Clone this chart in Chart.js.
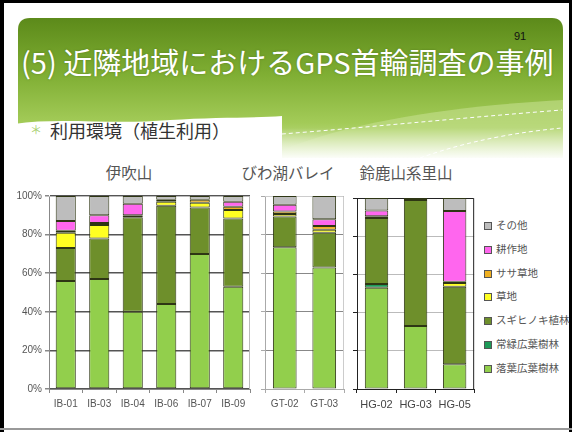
<!DOCTYPE html>
<html>
<head>
<meta charset="utf-8">
<script src="https://cdn.jsdelivr.net/npm/chart.js@4/dist/chart.umd.min.js"></script>
<style>
body{margin:0;width:572px;height:432px;position:relative;overflow:hidden;background:#fff;font-family:"Noto Sans CJK JP",sans-serif;}
.abs{position:absolute;}
#title{left:21px;top:40px;color:#fff;font-size:29px;white-space:nowrap;letter-spacing:0;text-shadow:0 0 2px rgba(60,90,20,.5);}
#pageno{left:514px;top:30px;font-size:11px;color:#111;font-family:"Liberation Sans",sans-serif;}
#subtitle{left:30px;top:117px;font-size:18px;color:#333;white-space:nowrap;}
#subtitle span{color:#a8d070;font-size:12px;margin-right:8px;vertical-align:3px;}
.ptitle{top:161px;font-size:15.5px;color:#555;white-space:nowrap;transform:translateX(-50%);}
#legend{left:484px;top:213px;font-size:10.5px;color:#555;white-space:nowrap;}
#legend div{height:23.8px;line-height:23.8px;}
#legend i{display:inline-block;width:6px;height:6px;border:1px solid #555;margin-right:4px;vertical-align:-1px;}
canvas{position:absolute;}
</style>
</head>
<body>
<svg class="abs" style="left:0;top:0" width="572" height="175">
  <defs>
    <linearGradient id="bg" x1="0" y1="0" x2="0" y2="1">
      <stop offset="0" stop-color="#5c8a1a"/>
      <stop offset="0.4" stop-color="#7fae33"/>
      <stop offset="0.75" stop-color="#a3cb58"/>
      <stop offset="1" stop-color="#cfe5a0"/>
    </linearGradient>
    <linearGradient id="fade" x1="0" y1="0" x2="0" y2="1">
      <stop offset="0" stop-color="#fff" stop-opacity="0"/>
      <stop offset="1" stop-color="#fff" stop-opacity="1"/>
    </linearGradient>
  </defs>
  <path d="M18,30 Q18,18 30,18 L552,18 Q563,18 563,30 L563,158 L18,158 Z" fill="url(#bg)"/>
  <path d="M282,150 C360,118 470,105 563,100 L563,158 L282,158 Z" fill="#c4df8e" opacity="0.6"/>
  <rect x="18" y="128" width="545" height="32" fill="url(#fade)"/>
  <path d="M14,124 C60,117 110,125 170,120 C215,117 255,118 282,116 L282,175 L14,175 Z" fill="#fff"/>
  <path d="M282,134 C360,128 460,118 562,110" stroke="#fff" stroke-width="1" stroke-dasharray="4,3" fill="none"/>
  <path d="M420,158 C470,140 520,132 562,128" stroke="#fff" stroke-width="1" stroke-dasharray="4,3" fill="none"/>
</svg>
<div class="abs" style="left:0;top:0;width:4px;height:432px;background:#000"></div>
<div class="abs" style="left:0;top:0;width:572px;height:3px;background:#000"></div>
<div class="abs" style="left:569px;top:0;width:3px;height:432px;background:#000"></div>
<div class="abs" style="left:0;top:428px;width:572px;height:2px;background:#999"></div>

<div id="title" class="abs">(5) 近隣地域におけるGPS首輪調査の事例</div>
<div id="pageno" class="abs">91</div>
<div id="subtitle" class="abs"><span>＊</span>利用環境（植生利用）</div>

<div class="abs ptitle" style="left:129px">伊吹山</div>
<div class="abs ptitle" style="left:288px">びわ湖バレイ</div>
<div class="abs ptitle" style="left:406px">鈴鹿山系里山</div>

<canvas id="chart1" width="254" height="236" style="left:0;top:186px"></canvas>
<canvas id="chart2" width="95" height="236" style="left:255px;top:186px"></canvas>
<canvas id="chart3" width="126" height="236" style="left:350px;top:186px"></canvas>
<div id="legend" class="abs"></div>

<script>
// séries (ordre d'empilement : du bas vers le haut)
const seriesNames = ['落葉広葉樹林', '常緑広葉樹林', 'スギヒノキ植林', '草地', 'ササ草地', '耕作地', 'その他'];
const seriesColors = ['#92cf4c', '#1d9a58', '#6e8f2b', '#ffff22', '#f0b020', '#ff66ee', '#bdbdbd'];

const yTickLabels = ['0%', '20%', '40%', '60%', '80%', '100%'];

// 伊吹山
const ibukiLabels = ['IB-01', 'IB-03', 'IB-04', 'IB-06', 'IB-07', 'IB-09'];
const ibukiRakuyo = [56, 57, 40, 44, 70, 53];
const ibukiJoryoku = [0, 0, 0, 0, 0, 0];
const ibukiSugi = [17, 21, 49, 51, 24, 35.4];
const ibukiSochi = [8, 7, 0, 2, 2.5, 4.3];
const ibukiSasa = [1, 1, 1, 1, 1.5, 1.7];
const ibukiKosaku = [5, 4, 6, 0, 0, 2.6];
const ibukiOther = [13, 10, 4, 2, 2, 3];

// びわ湖バレイ
const biwaLabels = ['GT-02', 'GT-03'];
const biwaRakuyo = [73.4, 63];
const biwaJoryoku = [0, 0];
const biwaSugi = [16, 18];
const biwaSochi = [1.3, 1.5];
const biwaSasa = [1.3, 2];
const biwaKosaku = [3.5, 3.5];
const biwaOther = [4.5, 12];

// 鈴鹿山系里山
const suzukaLabels = ['HG-02', 'HG-03', 'HG-05'];
const suzukaRakuyo = [53, 33, 13];
const suzukaJoryoku = [2, 0, 0];
const suzukaSugi = [34.5, 66, 40.5];
const suzukaSochi = [0, 0, 2];
const suzukaSasa = [1, 0, 0.7];
const suzukaKosaku = [3, 0, 37];
const suzukaOther = [6.5, 1, 6.8];

function buildDatasets(rows) {
    return rows.map((values, i) => ({
        label: seriesNames[i],
        data: values,
        backgroundColor: seriesColors[i],
        borderColor: '#2e3614',
        borderWidth: 1,
        borderSkipped: false,
        barPercentage: 1,
        categoryPercentage: 0.6
    }));
}

// cadre autour de la zone de tracé
const framePlugin = {
    id: 'frame',
    beforeDatasetsDraw(chart, args, opts) {
        const a = chart.chartArea;
        const ctx = chart.ctx;
        ctx.save();
        ctx.strokeStyle = opts.color;
        ctx.lineWidth = 1;
        ctx.beginPath();
        ctx.moveTo(a.left, a.top + 0.5);
        ctx.lineTo(a.right - 0.5, a.top + 0.5);
        ctx.lineTo(a.right - 0.5, a.bottom);
        ctx.stroke();
        ctx.restore();
    }
};

function makePanel(id, labels, rows, cfg) {
    return new Chart(document.getElementById(id), {
        type: 'bar',
        data: { labels: labels, datasets: buildDatasets(rows) },
        options: {
            responsive: false,
            animation: false,
            devicePixelRatio: 1,
            layout: { padding: { left: 0, right: cfg.padRight, top: cfg.padTop, bottom: 0 } },
            plugins: {
                legend: { display: false },
                tooltip: { enabled: false },
                frame: { color: cfg.frameColor }
            },
            scales: {
                x: {
                    stacked: true,
                    grid: { offset: true, drawOnChartArea: false, tickLength: 4, tickColor: cfg.axisColor },
                    border: { color: cfg.axisColor, width: 1 },
                    ticks: { color: cfg.labelColor, font: { family: 'Liberation Sans', size: cfg.xFont }, padding: 5, maxRotation: 0, autoSkip: false },
                    afterFit: (s) => { s.height = 33; }
                },
                y: {
                    stacked: true,
                    min: 0,
                    max: 100,
                    grid: { color: cfg.gridColor, lineWidth: cfg.gridWidth, tickLength: 4, tickColor: cfg.axisColor },
                    border: { color: cfg.axisColor, width: 1 },
                    ticks: {
                        stepSize: 20,
                        display: cfg.showY,
                        color: '#555',
                        padding: 3,
                        font: { family: 'Liberation Sans', size: 10 },
                        callback: (v, i) => yTickLabels[i]
                    },
                    afterFit: (s) => { s.width = cfg.yWidth; }
                }
            }
        },
        plugins: [framePlugin]
    });
}

makePanel('chart1', ibukiLabels,
    [ibukiRakuyo, ibukiJoryoku, ibukiSugi, ibukiSochi, ibukiSasa, ibukiKosaku, ibukiOther],
    { yWidth: 49, padRight: 4, padTop: 10, showY: true, gridColor: '#555', gridWidth: 1.5, axisColor: '#888', frameColor: '#bbb', labelColor: '#555', xFont: 10 });

makePanel('chart2', biwaLabels,
    [biwaRakuyo, biwaJoryoku, biwaSugi, biwaSochi, biwaSasa, biwaKosaku, biwaOther],
    { yWidth: 10, padRight: 6, padTop: 10, showY: false, gridColor: '#888', gridWidth: 1, axisColor: '#aaa', frameColor: '#ccc', labelColor: '#555', xFont: 10 });

makePanel('chart3', suzukaLabels,
    [suzukaRakuyo, suzukaJoryoku, suzukaSugi, suzukaSochi, suzukaSasa, suzukaKosaku, suzukaOther],
    { yWidth: 7, padRight: 1, padTop: 12, showY: false, gridColor: '#bbb', gridWidth: 1, axisColor: '#222', frameColor: '#222', labelColor: '#444', xFont: 11 });

// légende commune (de haut en bas : その他 → 落葉広葉樹林)
let legend = document.querySelector('#legend');
for (let i = seriesNames.length - 1; i >= 0; i--) {
    let row = document.createElement('div');
    row.innerHTML = `<i style="background:${seriesColors[i]}"></i>${seriesNames[i]}`;
    legend.appendChild(row);
}
</script>
</body>
</html>
